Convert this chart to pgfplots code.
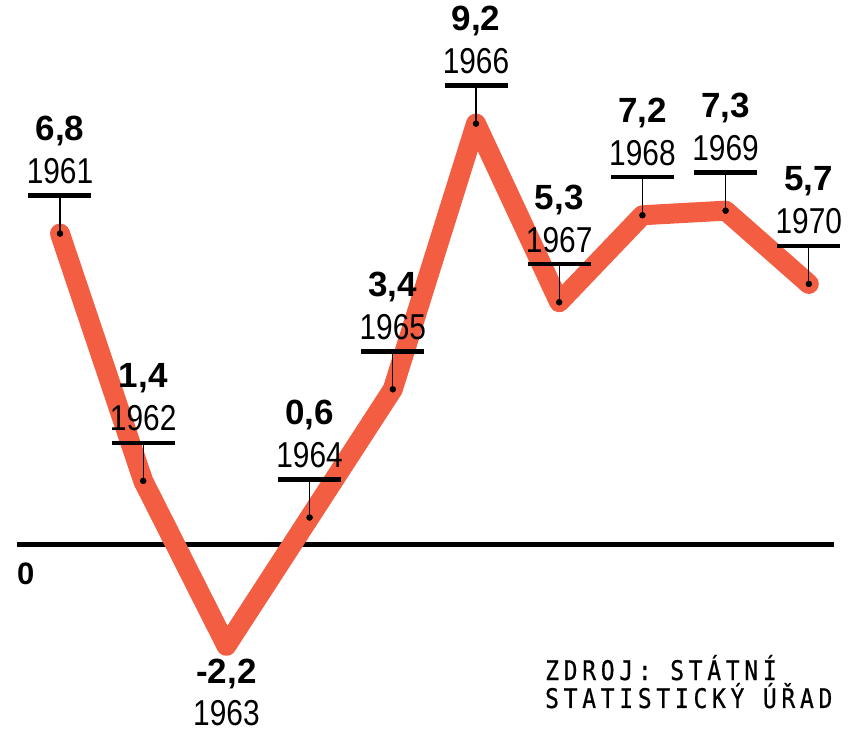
\documentclass[border=0pt]{standalone}
\usepackage{fontspec}
\setmainfont{Liberation Sans}
\newfontfamily\yearfont[FakeStretch=0.83]{Liberation Sans}
\newfontfamily\srcfont[FakeStretch=0.85,LetterSpace=17.5,FakeBold=0.6]{DejaVu Sans Mono}
\usepackage{pgfplots}
\usepackage{pgfplotstable}
\pgfplotsset{compat=1.18}
\definecolor{lineor}{RGB}{243,94,66}

\pgfplotstableread{
year val lbl
1961 6.8 6,8
1962 1.4 1,4
1963 -2.2 -2,2
1964 0.6 0,6
1965 3.4 3,4
1966 9.2 9,2
1967 5.3 5,3
1968 7.2 7,2
1969 7.3 7,3
1970 5.7 5,7
}\fulltable

\pgfplotstableread{
year val lbl
1961 6.8 6,8
1962 1.4 1,4
1964 0.6 0,6
1965 3.4 3,4
1966 9.2 9,2
1967 5.3 5,3
1968 7.2 7,2
1969 7.3 7,3
1970 5.7 5,7
}\uptable

\pgfplotstableread{
year val lbl
1963 -2.2 -2,2
}\downtable

\begin{document}
\begin{tikzpicture}
\begin{axis}[
  width=848pt, height=728pt, scale only axis,
  hide axis, clip=false,
  xmin=1960.279, xmax=1970.471,
  ymin=-3.996, ymax=11.90,
]
% zero line
\addplot[black, line width=5pt] coordinates {(1960.483,0) (1970.30,0)};
% main line
\addplot[lineor, line width=20pt, line join=round, line cap=round, mark=none]
  table[x=year, y=val] {\fulltable};
% stems
\addplot[only marks, mark=*, mark size=3pt, mark options={black, fill=black},
  error bars/.cd, y dir=plus, y fixed=0.83, error mark=none,
  error bar style={line width=1.2pt, black}]
  table[x=year, y=val] {\uptable};
% horizontal bars above the stems
\addplot[only marks, mark=-, mark size=31.5pt, mark options={line width=4.5pt, black}]
  table[x=year, y expr=\thisrow{val}+0.83] {\uptable};
% year labels (up)
\addplot[only marks, mark=none, point meta=explicit symbolic, nodes near coords,
  nodes near coords style={anchor=base, yshift=50pt, inner sep=0pt,
    font=\yearfont\fontsize{36}{36}\selectfont}]
  table[x=year, y=val, meta=year] {\uptable};
% value labels (up)
\addplot[only marks, mark=none, point meta=explicit symbolic, nodes near coords,
  nodes near coords style={anchor=base, yshift=93pt, inner sep=0pt,
    font=\bfseries\fontsize{35}{35}\selectfont}]
  table[x=year, y=val, meta=lbl] {\uptable};
% 1963 labels (down)
\addplot[only marks, mark=none, point meta=explicit symbolic, nodes near coords,
  nodes near coords style={anchor=base, yshift=-38pt, inner sep=0pt,
    font=\bfseries\fontsize{35}{35}\selectfont}]
  table[x=year, y=val, meta=lbl] {\downtable};
\addplot[only marks, mark=none, point meta=explicit symbolic, nodes near coords,
  nodes near coords style={anchor=base, yshift=-80pt, inner sep=0pt,
    font=\yearfont\fontsize{36}{36}\selectfont}]
  table[x=year, y=val, meta=year] {\downtable};
% zero label
\node[anchor=base west, inner sep=0pt, yshift=-40pt,
  font=\bfseries\fontsize{31}{31}\selectfont] at (axis cs:1960.483,0) {0};
% source
\node[anchor=base west, inner sep=0pt, font=\srcfont\fontsize{27}{28}\selectfont]
  at (axis cs:1966.829,-2.948) {ZDROJ: STÁTNÍ};
\node[anchor=base west, inner sep=0pt, font=\srcfont\fontsize{27}{28}\selectfont]
  at (axis cs:1966.829,-3.559) {STATISTICKÝ ÚŘAD};
\end{axis}
\pgfresetboundingbox
\path[use as bounding box] (current axis.south west) rectangle (current axis.north east);
\end{tikzpicture}
\end{document}
